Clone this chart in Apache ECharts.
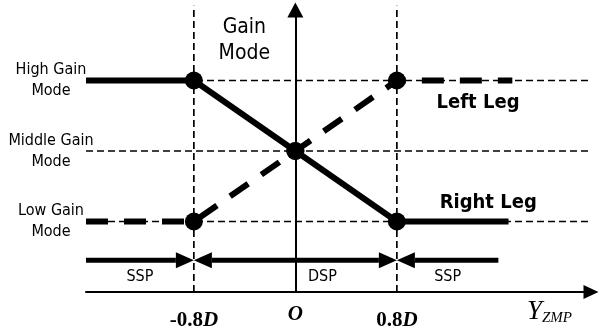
<!DOCTYPE html>
<html>
<head>
<meta charset="utf-8">
<script src="https://cdn.jsdelivr.net/npm/echarts@6/dist/echarts.min.js"></script>
<style>
  html, body { margin: 0; padding: 0; background: #fff; }
  #chart { width: 605px; height: 334px; }
</style>
</head>
<body>
<div id="chart"></div>
<script>
// Gain mode levels on the vertical axis
const modeLevels = [1, 2, 3];
const modeNames = ['Low Gain\nMode', 'Middle Gain\nMode', 'High Gain\nMode'];

// ZMP breakpoints (in units of D) and their tick texts
const xTicks = [-0.8, 0, 0.8];
const xTickLabels = ['-0.8|D', 'O', '0.8|D'];

// Gain schedule of each leg versus Y_ZMP: [y_zmp, gain mode level]
const rightLeg = [[-1.65, 3], [-0.8, 3], [0, 2], [0.8, 1], [1.68, 1]];
const leftLeg = [[-1.65, 1], [-0.8, 1], [0, 2], [0.8, 3], [1.71, 3]];

// Support phases along the ZMP axis: [from, to]
const phaseNames = ['SSP', 'DSP', 'SSP'];
const phaseSpans = [[-1.65, -0.8], [-0.8, 0.8], [1.6, 0.8]];
const phaseHeads = [['end'], ['start', 'end'], ['end']];

// Axis extents
const X_MIN = -1.65, X_MAX = 2.33;
const Y_MIN = 0, Y_MAX = 4;
const GUIDE_X_END = 2.33;
const GUIDE_Y_TOP = 4.06;
const PHASE_LEVEL = 0.45;

const SANS = "'DejaVu Sans Condensed', 'DejaVu Sans', sans-serif";
const SERIF = "'Liberation Serif', 'DejaVu Serif', serif";

const chart = echarts.init(document.getElementById('chart'), null, { renderer: 'canvas' });

const guideStyle = { color: '#000', width: 1.7, type: [7, 4] };

// dashed reference lines: one per gain level, one per ZMP breakpoint
const guideSeries = [];
modeLevels.forEach(function (lvl) {
  guideSeries.push({
    type: 'line', silent: true, clip: false, symbol: 'none', z: 1,
    lineStyle: guideStyle,
    data: [[X_MIN, lvl], [GUIDE_X_END, lvl]]
  });
});
xTicks.filter(function (t) { return t !== 0; }).forEach(function (t) {
  guideSeries.push({
    type: 'line', silent: true, clip: false, symbol: 'none', z: 1,
    lineStyle: guideStyle,
    data: [[t, Y_MIN], [t, GUIDE_Y_TOP]]
  });
});

// the breakpoint dots are the inner vertices of each leg
const breakDots = rightLeg.slice(1, 4).concat(leftLeg.slice(1, 4));

function renderPhase(params, api) {
  const i = params.dataIndex;
  const from = api.coord([api.value(0), api.value(2)]);
  const to = api.coord([api.value(1), api.value(2)]);
  const y = from[1];
  const dir = Math.sign(to[0] - from[0]);
  const L = 18, H = 8;
  let x0 = from[0], x1 = to[0];
  const children = [];
  const heads = phaseHeads[i];
  if (heads.indexOf('end') >= 0) {
    x1 = to[0] - dir * L;
    children.push({ type: 'polygon', shape: { points: [[to[0], y], [x1, y - H], [x1, y + H]] }, style: { fill: '#000' } });
  }
  if (heads.indexOf('start') >= 0) {
    x0 = from[0] + dir * L;
    children.push({ type: 'polygon', shape: { points: [[from[0], y], [x0, y - H], [x0, y + H]] }, style: { fill: '#000' } });
  }
  children.unshift({ type: 'line', shape: { x1: x0, y1: y, x2: x1, y2: y }, style: { stroke: '#000', lineWidth: 5 } });
  const shift = phaseNames[i] === 'DSP' ? 27 : 0;
  children.push({
    type: 'text',
    style: {
      text: phaseNames[i], x: (from[0] + to[0]) / 2 + shift, y: y + 17,
      align: 'center', verticalAlign: 'middle',
      fontSize: 16, fontFamily: SANS, fill: '#000'
    }
  });
  return { type: 'group', children: children };
}

const option = {
  animation: false,
  backgroundColor: '#fff',
  textStyle: { fontFamily: SANS, color: '#000' },
  grid: { left: 86, right: 14, top: 10, bottom: 42, containLabel: false, outerBoundsMode: 'none' },
  xAxis: {
    type: 'value', min: X_MIN, max: X_MAX,
    splitLine: { show: false },
    axisTick: { show: false },
    axisLine: {
      show: true, onZero: false,
      symbol: ['none', 'triangle'], symbolSize: [14, 15],
      lineStyle: { color: '#000', width: 2 }
    },
    axisLabel: {
      customValues: xTicks,
      margin: 19,
      color: '#000',
      formatter: function (v) {
        let k = 0;
        xTicks.forEach(function (t, j) { if (Math.abs(t - v) < 1e-6) k = j; });
        const parts = xTickLabels[k].split('|');
        if (parts.length === 1) return '{o|' + parts[0] + '}';
        return '{n|' + parts[0] + '}{d|' + parts[1] + '}';
      },
      rich: {
        n: { fontFamily: SERIF, fontWeight: 'bold', fontSize: 21, lineHeight: 20, color: '#000' },
        d: { fontFamily: SERIF, fontWeight: 'bold', fontStyle: 'italic', fontSize: 21, lineHeight: 20, color: '#000' },
        o: { fontFamily: SERIF, fontWeight: 'bold', fontStyle: 'italic', fontSize: 21, lineHeight: 8, color: '#000' }
      }
    },
    name: '{y|Y}{s|ZMP}',
    nameLocation: 'end',
    nameGap: -64,
    nameTextStyle: {
      padding: [40, 0, 0, 0],
      rich: {
        y: { fontFamily: SERIF, fontStyle: 'italic', fontSize: 27, lineHeight: 28, color: '#000' },
        s: { fontFamily: SERIF, fontStyle: 'italic', fontSize: 15, lineHeight: 12, verticalAlign: 'bottom', color: '#000' }
      }
    }
  },
  yAxis: [
    {
      // gain-mode names on the left
      type: 'value', min: Y_MIN, max: Y_MAX, position: 'left',
      splitLine: { show: false },
      axisTick: { show: false },
      axisLine: { show: false, onZero: false },
      axisLabel: {
        customValues: modeLevels,
        align: 'center',
        margin: 35,
        fontSize: 16,
        lineHeight: 21,
        fontFamily: SANS,
        color: '#000',
        formatter: function (v) {
          let k = 0;
          modeLevels.forEach(function (t, j) { if (Math.abs(t - v) < 1e-6) k = j; });
          return modeNames[k];
        }
      }
    },
    {
      // the gain-mode axis itself, drawn through Y_ZMP = 0
      type: 'value', min: Y_MIN, max: Y_MAX, position: 'left',
      splitLine: { show: false },
      axisTick: { show: false },
      axisLabel: { show: false },
      axisLine: {
        show: true, onZero: true, onZeroAxisIndex: 0,
        symbol: ['none', 'triangle'], symbolSize: [16, 15],
        lineStyle: { color: '#000', width: 2 }
      },
      name: 'Gain\nMode',
      nameLocation: 'end',
      nameGap: -57,
      nameTextStyle: {
        fontFamily: SANS, fontSize: 21, lineHeight: 26, color: '#000',
        align: 'center', padding: [0, 102, 0, 0]
      }
    }
  ],
  series: guideSeries.concat([
    {
      name: 'Right Leg', type: 'line', silent: true, clip: false, symbol: 'none', z: 3,
      lineStyle: { color: '#000', width: 6 },
      data: rightLeg
    },
    {
      name: 'Left Leg', type: 'line', silent: true, clip: false, symbol: 'none', z: 3,
      lineStyle: { color: '#000', width: 6, type: [22, 16] },
      data: leftLeg
    },
    {
      type: 'scatter', silent: true, clip: false, z: 4,
      symbol: 'circle', symbolSize: 18,
      itemStyle: { color: '#000', opacity: 1 },
      data: breakDots
    },
    {
      // leg names
      type: 'scatter', silent: true, clip: false, z: 5,
      symbolSize: 0,
      itemStyle: { opacity: 1 },
      label: {
        show: true, position: 'inside',
        fontFamily: SANS, fontWeight: 'bold', fontSize: 20, color: '#000',
        formatter: function (p) { return p.value[2]; }
      },
      data: [[1.44, 2.69, 'Left Leg'], [1.52, 1.26, 'Right Leg']]
    },
    {
      type: 'custom', silent: true, clip: false, z: 3,
      renderItem: renderPhase,
      encode: { x: [0, 1], y: 2 },
      data: phaseSpans.map(function (s) { return [s[0], s[1], PHASE_LEVEL]; })
    }
  ])
};

chart.setOption(option);
</script>
</body>
</html>
